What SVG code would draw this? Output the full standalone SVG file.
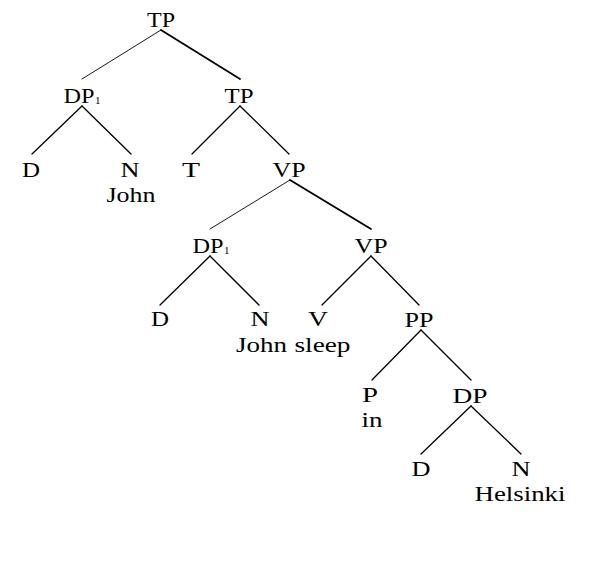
<svg xmlns="http://www.w3.org/2000/svg" width="609" height="570" viewBox="0 0 609 570">
<style>
text{font-family:"Liberation Serif","Times New Roman",serif;font-size:21px;fill:#000;text-anchor:middle}
.sub{font-size:11px;text-anchor:start}
line{stroke:#000;stroke-width:1.3;stroke-linecap:round}
.thin{stroke-width:0.9}
.thick{stroke-width:1.8}
</style>
<rect width="609" height="570" fill="#fff"/>
<g id="connectors">
<line class="thin" x1="161" y1="30" x2="82" y2="79"/>
<line class="thick" x1="161" y1="30" x2="240" y2="79"/>
<line x1="82" y1="106" x2="32" y2="154"/>
<line x1="82" y1="106" x2="131" y2="154"/>
<line x1="240" y1="106" x2="192" y2="154"/>
<line x1="240" y1="106" x2="289" y2="154"/>
<line class="thin" x1="290" y1="180" x2="210" y2="229"/>
<line class="thick" x1="290" y1="180" x2="371" y2="229"/>
<line x1="210" y1="256" x2="160" y2="305"/>
<line x1="210" y1="256" x2="259" y2="305"/>
<line x1="371" y1="256" x2="322" y2="305"/>
<line x1="371" y1="256" x2="419" y2="305"/>
<line x1="421" y1="330" x2="372" y2="380"/>
<line x1="421" y1="330" x2="471" y2="380"/>
<line x1="471" y1="406" x2="421" y2="454"/>
<line x1="471" y1="406" x2="521" y2="454"/>
</g>
<g id="tp-root"><text x="161" y="27" textLength="28" lengthAdjust="spacingAndGlyphs">TP</text></g>
<g id="dp1-a"><text x="79" y="103" textLength="31" lengthAdjust="spacingAndGlyphs">DP</text><text class="sub" x="95" y="104">1</text></g>
<g id="tp-b"><text x="239" y="103" textLength="29" lengthAdjust="spacingAndGlyphs">TP</text></g>
<g id="d-a"><text x="31" y="177" textLength="18" lengthAdjust="spacingAndGlyphs">D</text></g>
<g id="n-a"><text x="130" y="177" textLength="19" lengthAdjust="spacingAndGlyphs">N</text><text x="131" y="202" textLength="49" lengthAdjust="spacingAndGlyphs">John</text></g>
<g id="t"><text x="191" y="177" textLength="18" lengthAdjust="spacingAndGlyphs">T</text></g>
<g id="vp-a"><text x="289" y="177" textLength="33" lengthAdjust="spacingAndGlyphs">VP</text></g>
<g id="dp1-b"><text x="208" y="253" textLength="31" lengthAdjust="spacingAndGlyphs">DP</text><text class="sub" x="224" y="254">1</text></g>
<g id="vp-b"><text x="371" y="253" textLength="33" lengthAdjust="spacingAndGlyphs">VP</text></g>
<g id="d-b"><text x="160" y="326" textLength="18" lengthAdjust="spacingAndGlyphs">D</text></g>
<g id="n-b"><text x="260" y="326" textLength="19" lengthAdjust="spacingAndGlyphs">N</text><text x="261.5" y="352" textLength="51" lengthAdjust="spacingAndGlyphs">John</text></g>
<g id="v"><text x="318" y="326" textLength="20" lengthAdjust="spacingAndGlyphs">V</text><text x="322.5" y="352" textLength="56" lengthAdjust="spacingAndGlyphs">sleep</text></g>
<g id="pp"><text x="419" y="327" textLength="29" lengthAdjust="spacingAndGlyphs">PP</text></g>
<g id="p"><text x="370" y="402" textLength="16" lengthAdjust="spacingAndGlyphs">P</text><text x="372" y="427" textLength="21" lengthAdjust="spacingAndGlyphs">in</text></g>
<g id="dp"><text x="470" y="403" textLength="35" lengthAdjust="spacingAndGlyphs">DP</text></g>
<g id="d-c"><text x="421" y="476" textLength="19" lengthAdjust="spacingAndGlyphs">D</text></g>
<g id="n-c"><text x="521" y="476" textLength="19" lengthAdjust="spacingAndGlyphs">N</text><text x="520" y="501" textLength="91" lengthAdjust="spacingAndGlyphs">Helsinki</text></g>
</svg>
